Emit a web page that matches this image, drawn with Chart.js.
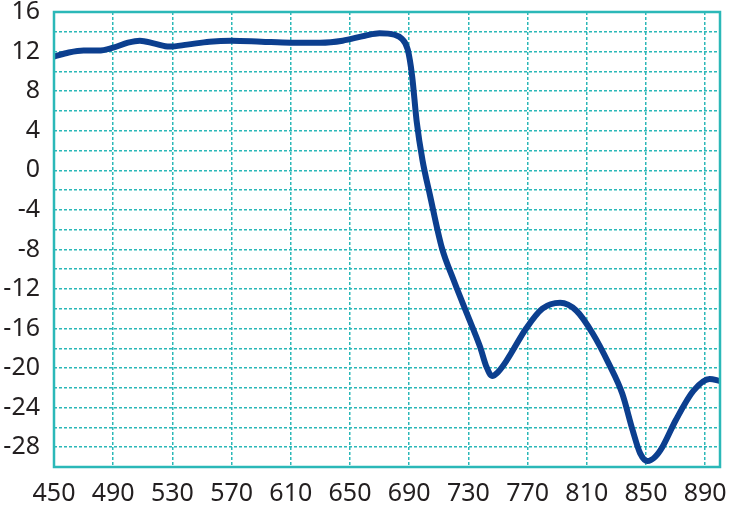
<!DOCTYPE html>
<html>
<head>
<meta charset="utf-8">
<script src="https://cdn.jsdelivr.net/npm/chart.js@4/dist/chart.umd.min.js"></script>
<style>
  html, body { margin: 0; padding: 0; background: #fff; }
  #wrap { width: 729px; height: 505px; }
</style>
</head>
<body>
<div id="wrap"><canvas id="chart"></canvas></div>
<script>
// длина волны, нм
const wavelength = [450, 460, 470, 480, 490, 500, 508, 518, 528, 540, 555, 570, 590, 610, 630, 645, 660, 670, 680, 685, 689,
    692, 695, 699, 704, 712, 720, 729, 738, 742, 746, 750, 756, 769, 780, 792, 803, 814, 825, 834, 841, 846, 851, 856, 861,
    870, 882, 893, 900];
// значения кривой
const values = [11.5, 11.9, 12.1, 12.1, 12.4, 12.9, 13.1, 12.8, 12.5, 12.7, 13.0, 13.1, 13.0, 12.9, 12.9, 13.1, 13.6, 13.85, 13.7, 13.3, 12.2,
    9.5, 5.0, 1.0, -2.5, -7.8, -11.1, -14.5, -17.9, -19.8, -20.8, -20.4, -19.2, -16.0, -14.0, -13.4, -14.2, -16.5, -19.6, -22.6, -26.3, -28.6, -29.4, -29.0, -28.0,
    -25.3, -22.3, -21.1, -21.3];
// подписи оси X
const xTicks = [450, 490, 530, 570, 610, 650, 690, 730, 770, 810, 850, 890];

const gridColor = '#2bb8b8';
const lineColor = '#0c3f8f';

// рамка области графика
const frame = {
    id: 'frame',
    afterDatasetsDraw(chart) {
        const a = chart.chartArea;
        const ctx = chart.ctx;
        ctx.save();
        ctx.strokeStyle = gridColor;
        ctx.lineWidth = 2.5;
        ctx.strokeRect(a.left, a.top, a.right - a.left, a.bottom - a.top);
        ctx.restore();
    }
};

new Chart(document.getElementById('chart'), {
    type: 'line',
    data: {
        datasets: [{
            data: wavelength.map((x, i) => ({ x: x, y: values[i] })),
            borderColor: lineColor,
            borderWidth: 6,
            pointRadius: 0,
            cubicInterpolationMode: 'monotone',
            borderCapStyle: 'round',
            borderJoinStyle: 'round',
            fill: false
        }]
    },
    options: {
        responsive: true,
        maintainAspectRatio: false,
        animation: false,
        layout: { padding: { top: 12, right: 9, left: 0, bottom: 0 } },
        plugins: { legend: { display: false }, tooltip: { enabled: false } },
        scales: {
            x: {
                type: 'linear',
                min: 450,
                max: 900,
                afterBuildTicks: scale => { scale.ticks = xTicks.map(v => ({ value: v })); },
                afterFit: scale => {
                    scale.height = 38;
                    scale.paddingLeft = 0;
                    scale.paddingRight = 0;
                },
                grid: { color: gridColor, lineWidth: 1.5, drawTicks: false },
                border: { display: false, dash: [3, 2] },
                ticks: {
                    color: '#231f20',
                    padding: 12,
                    maxRotation: 0,
                    autoSkip: false,
                    font: { family: 'Noto Sans', size: 25 }
                }
            },
            y: {
                min: -30,
                max: 16,
                afterFit: scale => {
                    scale.width = 54;
                    scale.paddingTop = 0;
                    scale.paddingBottom = 0;
                },
                grid: { color: gridColor, lineWidth: 1.5, drawTicks: false },
                border: { display: false, dash: [3, 2] },
                ticks: {
                    stepSize: 2,
                    color: '#231f20',
                    padding: 14,
                    autoSkip: false,
                    font: { family: 'Noto Sans', size: 25 },
                    callback: v => (v % 4 === 0 ? String(v) : '')
                }
            }
        }
    },
    plugins: [frame]
});
</script>
</body>
</html>
